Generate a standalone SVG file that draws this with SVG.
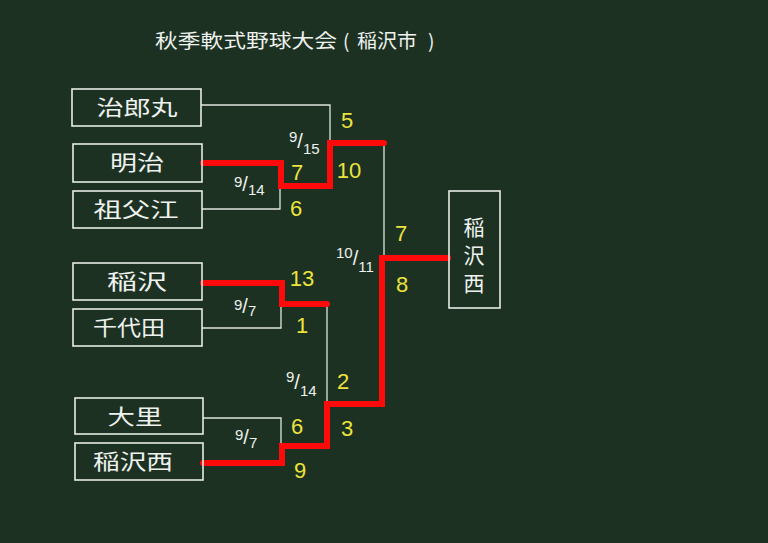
<svg xmlns="http://www.w3.org/2000/svg" width="768" height="543" viewBox="0 0 768 543">
<style>
.bg{fill:#1d3123}
.box rect{fill:none;stroke:#e6ece6;stroke-width:1.6}
.box text{fill:#eef2ee;font-family:"Noto Sans CJK JP","Noto Sans",sans-serif;font-size:21px;text-anchor:middle}
.wl{fill:none;stroke:#dfe5df;stroke-width:1.3}
.rl{fill:none;stroke:#ff0a0a;stroke-width:6;stroke-linejoin:miter;stroke-linecap:round}
.sc{fill:#ece33e;font-family:"Liberation Sans","DejaVu Sans",sans-serif;font-size:22px;text-anchor:middle}
.fr{fill:#eef2ee;font-family:"Liberation Sans","DejaVu Sans",sans-serif;font-size:15px}
.fr .sl{font-size:20px}
.title{fill:#eef2ee;font-family:"Noto Sans CJK JP","Noto Sans",sans-serif;font-size:19px}
</style>
<rect class="bg" x="0" y="0" width="768" height="543"/>
<text class="title" x="155" y="48" textLength="182" lengthAdjust="spacingAndGlyphs">秋季軟式野球大会</text>
<text class="title" x="343" y="48">(</text>
<text class="title" x="357" y="48" textLength="60" lengthAdjust="spacingAndGlyphs">稲沢市</text>
<text class="title" x="428" y="48">)</text>

<g id="connectors">
<path class="wl" d="M201,105 H330 V186"/>
<path class="wl" d="M202,209 H280 V186"/>
<path class="wl" d="M384,143 V258"/>
<path class="wl" d="M202,328 H281 V304"/>
<path class="wl" d="M327,304 V404"/>
<path class="wl" d="M203,418 H281 V446"/>
<path class="rl" d="M203,163 H281 V186 H330 V143 H384"/>
<path class="rl" d="M203,283 H282 V304 H327"/>
<path class="rl" d="M203,463 H282 V446 H327 V404 H382 V258 H448"/>
</g>

<g id="n-jiromaru" class="box"><rect x="72" y="89" width="129" height="37"/><text x="137" y="115" textLength="81" lengthAdjust="spacingAndGlyphs">治郎丸</text></g>
<g id="n-meiji" class="box"><rect x="73" y="144" width="129" height="38"/><text x="137" y="170" textLength="54" lengthAdjust="spacingAndGlyphs">明治</text></g>
<g id="n-sobue" class="box"><rect x="73" y="191" width="129" height="37"/><text x="136" y="217" textLength="85" lengthAdjust="spacingAndGlyphs">祖父江</text></g>
<g id="n-inazawa" class="box"><rect x="73" y="263" width="129" height="37"/><text x="137" y="289" textLength="60" lengthAdjust="spacingAndGlyphs">稲沢</text></g>
<g id="n-chiyoda" class="box"><rect x="73" y="309" width="129" height="37"/><text x="129" y="335" textLength="72" lengthAdjust="spacingAndGlyphs">千代田</text></g>
<g id="n-osato" class="box"><rect x="75" y="398" width="128" height="36"/><text x="135" y="424" textLength="55" lengthAdjust="spacingAndGlyphs">大里</text></g>
<g id="n-inazawanishi" class="box"><rect x="75" y="443" width="128" height="37"/><text x="133" y="469" textLength="80" lengthAdjust="spacingAndGlyphs">稲沢西</text></g>
<g id="n-winner" class="box"><rect x="449" y="191" width="51" height="117"/>
<text x="474" y="235" font-size="26">稲</text><text x="474" y="263" font-size="26">沢</text><text x="474" y="291" font-size="26">西</text></g>

<g id="dates">
<text class="fr" x="289" y="142">9<tspan class="sl" dy="6">/</tspan><tspan dy="6">15</tspan></text>
<text class="fr" x="234" y="187">9<tspan class="sl" dy="4">/</tspan><tspan dy="4">14</tspan></text>
<text class="fr" x="234" y="310">9<tspan class="sl" dy="3">/</tspan><tspan dy="3">7</tspan></text>
<text class="fr" x="336" y="258">10<tspan class="sl" dy="7">/</tspan><tspan dy="7">11</tspan></text>
<text class="fr" x="286" y="382">9<tspan class="sl" dy="7">/</tspan><tspan dy="7">14</tspan></text>
<text class="fr" x="235" y="440">9<tspan class="sl" dy="4">/</tspan><tspan dy="4">7</tspan></text>
</g>

<g id="scores">
<text class="sc" x="347" y="128">5</text>
<text class="sc" x="297" y="180">7</text>
<text class="sc" x="349" y="178">10</text>
<text class="sc" x="296" y="216">6</text>
<text class="sc" x="302" y="286">13</text>
<text class="sc" x="302" y="333">1</text>
<text class="sc" x="343" y="389">2</text>
<text class="sc" x="347" y="436">3</text>
<text class="sc" x="297" y="434">6</text>
<text class="sc" x="300" y="478">9</text>
<text class="sc" x="401" y="241">7</text>
<text class="sc" x="402" y="292">8</text>
</g>
</svg>
